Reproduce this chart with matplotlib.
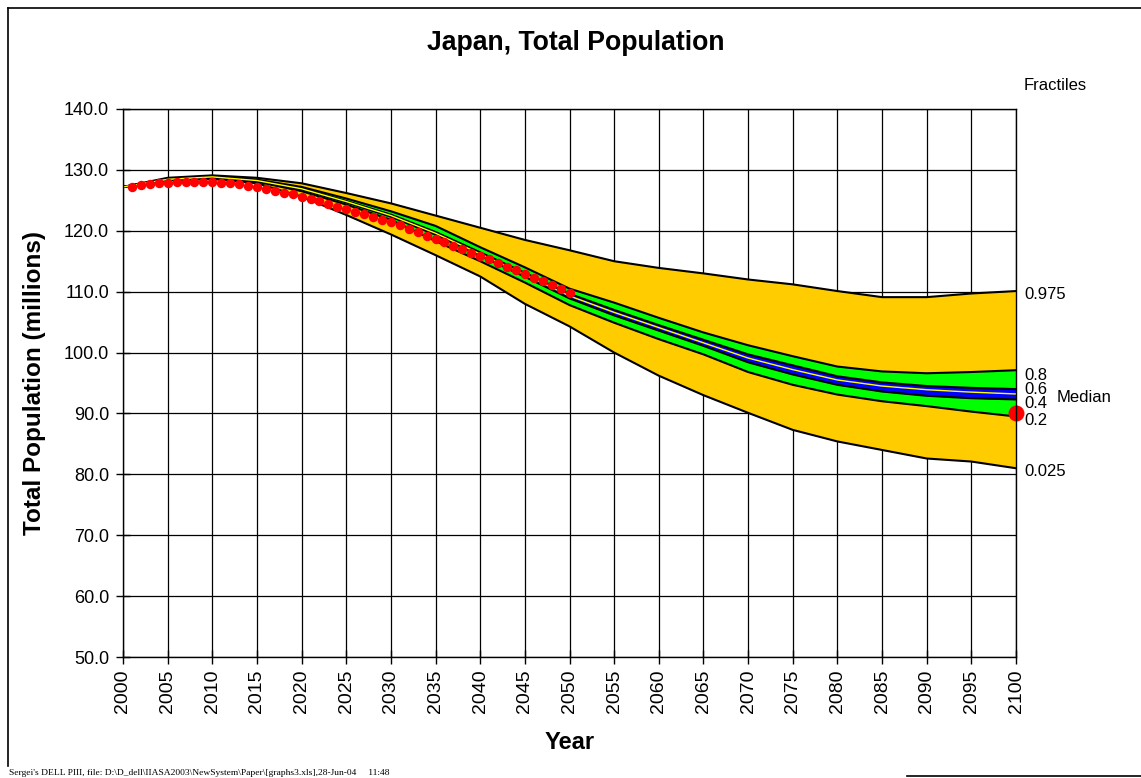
import matplotlib
matplotlib.use("Agg")
import matplotlib.pyplot as plt
from matplotlib.lines import Line2D

plt.rcParams['font.family'] = ['Liberation Sans', 'DejaVu Sans']

# ---- data ----
years = [2000, 2005, 2010, 2015, 2020, 2025, 2030, 2035, 2040, 2045, 2050,
         2055, 2060, 2065, 2070, 2075, 2080, 2085, 2090, 2095, 2100]
q975 = [127.2, 128.7, 129.1, 128.7, 127.8, 126.2, 124.5, 122.5, 120.5, 118.5, 116.8,
        115.0, 113.9, 113.0, 112.0, 111.2, 110.1, 109.1, 109.1, 109.7, 110.1]
q80 = [127.2, 128.5, 128.95, 128.4, 127.2, 125.3, 123.2, 120.8, 117.3, 114.0, 110.5,
       108.2, 105.7, 103.3, 101.2, 99.4, 97.7, 96.9, 96.6, 96.8, 97.1]
q60 = [127.2, 128.47, 128.88, 128.3, 126.95, 124.9, 122.65, 119.8, 116.45, 113.1, 109.65,
       107.0, 104.5, 102.1, 99.7, 97.9, 96.1, 95.1, 94.5, 94.2, 94.0]
median = [127.2, 128.45, 128.85, 128.25, 126.9, 124.8, 122.5, 119.6, 116.2, 112.8, 109.3,
          106.6, 104.1, 101.6, 99.1, 97.2, 95.5, 94.5, 93.9, 93.5, 93.2]
q40 = [127.2, 128.43, 128.82, 128.2, 126.8, 124.65, 122.3, 119.35, 115.9, 112.45, 108.9,
       106.1, 103.6, 101.1, 98.4, 96.4, 94.7, 93.6, 92.9, 92.5, 92.3]
q20 = [127.2, 128.4, 128.7, 128.05, 126.5, 124.3, 121.8, 118.3, 115.0, 111.5, 107.8,
       104.9, 102.2, 99.7, 96.8, 94.7, 93.1, 92.0, 91.2, 90.3, 89.5]
q025 = [127.2, 128.3, 128.5, 127.8, 125.6, 122.6, 119.4, 116.0, 112.5, 108.0, 104.3,
        100.0, 96.2, 93.0, 90.1, 87.3, 85.4, 84.0, 82.6, 82.1, 81.0]

dot_years = list(range(2001, 2051))
dot_values = [127.27, 127.54, 127.70, 127.81, 127.92, 127.98, 128.03, 128.03, 128.03, 127.98,
              127.92, 127.81, 127.70, 127.43, 127.16, 126.89, 126.61, 126.28, 125.96, 125.57,
              125.19, 124.81, 124.37, 123.93, 123.50, 123.06, 122.68, 122.24, 121.80, 121.37,
              120.87, 120.33, 119.73, 119.18, 118.58, 118.08, 117.48, 116.93, 116.38, 115.84,
              115.29, 114.68, 114.08, 113.53, 112.88, 112.27, 111.73, 111.07, 110.52, 109.81]
end_year = [2100]
end_value = [90.0]

fractile_labels = ["0.975", "0.8", "0.6", "0.4", "0.2", "0.025"]
fractile_label_y = [109.6, 96.3, 94.0, 91.7, 88.9, 80.4]
y_ticks = [50, 60, 70, 80, 90, 100, 110, 120, 130, 140]
x_ticks = list(range(2000, 2101, 5))

# ---- figure ----
fig = plt.figure(figsize=(11.41, 7.78), dpi=100)
ax = fig.add_axes([123/1141, 1-657/778, (1016-123)/1141, (657-109)/778])

ax.fill_between(years, q025, q975, color='#FFCC00', lw=0, zorder=2)
ax.fill_between(years, q20, q80, color='#00FF00', lw=0, zorder=3)
ax.fill_between(years, q40, q60, color='#0000FF', lw=0, zorder=4)
for s in (q975, q80, q60, q40, q20, q025):
    ax.plot(years, s, color='black', lw=1.5, zorder=5)
ax.plot(years, median, color='#FFFF00', lw=1.0, zorder=6)

ax.plot(dot_years, dot_values, 'o', color='#FF0000', ms=6.8, mec='none', zorder=7, clip_on=False)
ax.plot(end_year, end_value, 'o', color='#FF0000', ms=11.5, mec='none', zorder=8, clip_on=False)

ax.set_xlim(2000, 2100)
ax.set_ylim(50, 140)
ax.set_xticks(x_ticks)
ax.set_xticklabels([str(x) for x in x_ticks], rotation=90)
ax.set_yticks(y_ticks)
ax.set_yticklabels([f"{v:.1f}" for v in y_ticks])
ax.tick_params(axis='both', direction='inout', length=10, width=1, colors='black')
ax.tick_params(axis='y', pad=5, labelsize=13)
ax.tick_params(axis='x', pad=4, labelsize=14)
ax.grid(True, color='black', lw=0.9, zorder=1)
ax.set_axisbelow(True)
for sp in ax.spines.values():
    sp.set_color('black')
    sp.set_linewidth(1.0)
    sp.set_zorder(9)

ax.set_xlabel("Year", fontsize=17, fontweight='bold', labelpad=13)
ax.set_ylabel("Total Population (millions)", fontsize=17.5, fontweight='bold', labelpad=13)

fig.text(576/1141, 1-43/778, "Japan, Total Population", fontsize=19.2, fontweight='bold',
         ha='center', va='center')

# right-side fractile labels
for lab, yv in zip(fractile_labels, fractile_label_y):
    ax.text(2100.9, yv, lab, fontsize=12, ha='left', va='center', clip_on=False)
ax.text(2104.5, 92.6, "Median", fontsize=12, ha='left', va='center', clip_on=False)
ax.text(2100.9, 143.8, "Fractiles", fontsize=12, ha='left', va='center', clip_on=False)

# outer frame pieces
W, H = 1141, 778
fig.add_artist(Line2D([8/W, 8/W], [1-8/H, 1-766/H], color='black', lw=1.2, transform=fig.transFigure))
fig.add_artist(Line2D([8/W, 1.0], [1-8/H, 1-8/H], color='black', lw=1.2, transform=fig.transFigure))
fig.add_artist(Line2D([907/W, 1.0], [1-776/H, 1-776/H], color='black', lw=1.2, transform=fig.transFigure))

fig.text(9/W, 1-773/H,
         "Sergei's DELL PIII, file: D:\\D_dell\\IIASA2003\\NewSystem\\Paper\\[graphs3.xls],28-Jun-04     11:48",
         fontsize=6.8, family=['Liberation Serif', 'DejaVu Serif'], ha='left', va='center')

fig.savefig("out.png", dpi=100)
